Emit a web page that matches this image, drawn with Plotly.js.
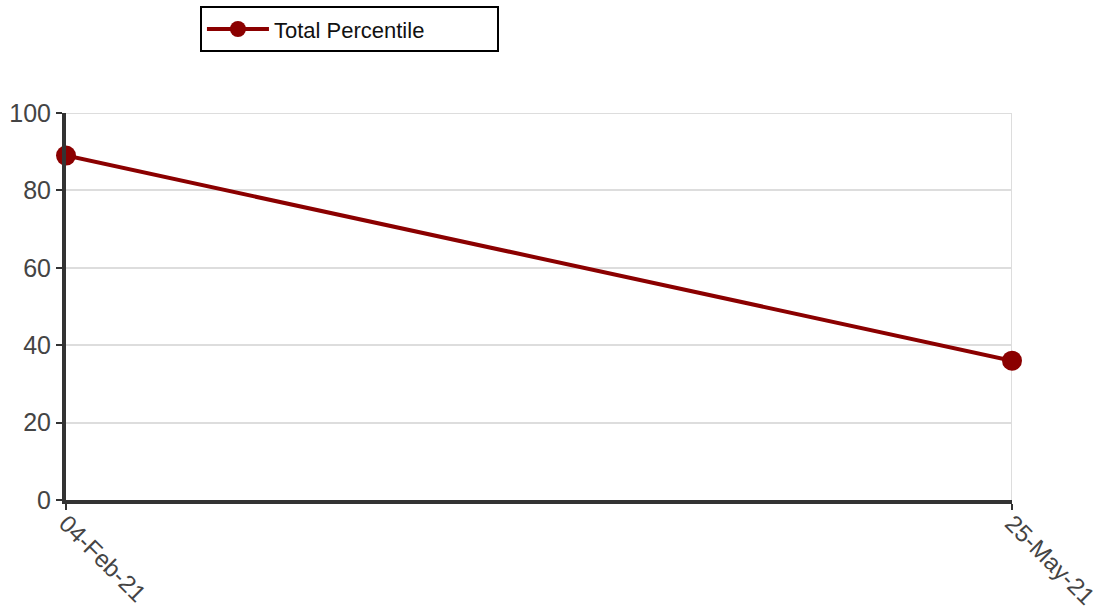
<!DOCTYPE html>
<html>
<head>
<meta charset="utf-8">
<script src="https://cdn.plot.ly/plotly-3.0.1.min.js"></script>
<style>html,body{margin:0;padding:0;background:#fff;}#chart{width:1105px;height:612px;}</style>
</head>
<body>
<div id="chart"></div>
<script>
const dates = ["04-Feb-21", "25-May-21"];
const totalPercentile = [89, 36];
const seriesName = "Total Percentile";
const yTicks = [0, 20, 40, 60, 80, 100];

const trace = {
  x: dates,
  y: totalPercentile,
  name: seriesName,
  type: "scatter",
  mode: "lines+markers",
  line: {color: "#8b0000", width: 4},
  marker: {color: "#8b0000", size: 20},
  showlegend: true,
  cliponaxis: false
};

const gridColor = "#dddddd";

const layout = {
  width: 1105, height: 612,
  margin: {l: 66, r: 93, t: 113, b: 112, autoexpand: false},
  paper_bgcolor: "#fff", plot_bgcolor: "#fff",
  font: {family: "Liberation Sans, Arial, sans-serif", color: "#333"},
  showlegend: true,
  legend: {
    x: 0.1416, xanchor: "left", y: 1.276, yanchor: "top",
    orientation: "h",
    bordercolor: "#000", borderwidth: 2, bgcolor: "#fff",
    font: {size: 22, color: "#111"},
    itemwidth: 62,
    entrywidth: 218
  },
  xaxis: {
    type: "category", range: [0, 1],
    showline: true, linecolor: "#333", linewidth: 4,
    showgrid: true, gridcolor: gridColor, gridwidth: 2,
    ticks: "outside", ticklen: 6, tickwidth: 2, tickcolor: "#333",
    tickangle: 45, tickfont: {size: 24, color: "#444"},
    ticklabelstandoff: -10,
    zeroline: false, fixedrange: true
  },
  yaxis: {
    range: [0, 100], tickvals: yTicks,
    showline: true, linecolor: "#333", linewidth: 4,
    showgrid: true, gridcolor: gridColor, gridwidth: 2,
    ticks: "outside", ticklen: 6, tickwidth: 2, tickcolor: "#333",
    tickfont: {size: 25, color: "#444"},
    zeroline: false, fixedrange: true
  },
  shapes: [
    {type: "line", layer: "below", xref: "paper", x0: 0, x1: 1, yref: "y", y0: yTicks[yTicks.length - 1], y1: yTicks[yTicks.length - 1], line: {color: gridColor, width: 2}},
    {type: "line", layer: "below", xref: "x", x0: dates[dates.length - 1], x1: dates[dates.length - 1], yref: "paper", y0: 0, y1: 1, line: {color: gridColor, width: 2}}
  ]
};

Plotly.newPlot("chart", [trace], layout, {displayModeBar: false, staticPlot: true});
</script>
</body>
</html>
